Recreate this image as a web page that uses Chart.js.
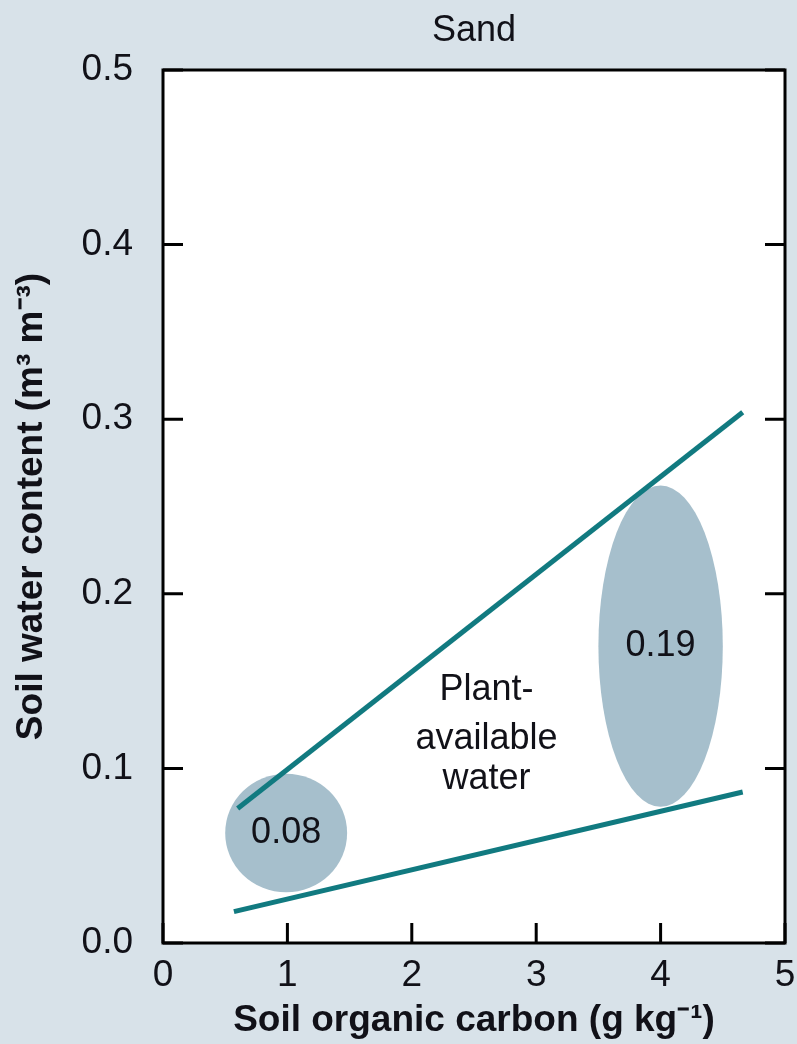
<!DOCTYPE html>
<html>
<head>
<meta charset="utf-8">
<script src="https://cdn.jsdelivr.net/npm/chart.js@4.4.1/dist/chart.umd.min.js"></script>
<style>
  html, body { margin: 0; padding: 0; background: #d8e2e9; }
  canvas { display: block; }
</style>
</head>
<body>
<canvas id="myChart" width="797" height="1044"></canvas>
<script>
// axis ranges and ticks
let xTicks = [0, 1, 2, 3, 4, 5];
let yTicks = [0, 0.1, 0.2, 0.3, 0.4, 0.5];

// two fitted lines (upper / lower limit of water)
let upperX = [0.6, 4.66];
let upperY = [0.077, 0.304];
let lowerX = [0.57, 4.66];
let lowerY = [0.018, 0.0865];

// shaded ovals with their values
let blobX = [0.99, 4.0];
let blobY = [0.063, 0.17];
let blobRx = [0.49, 0.5];
let blobRy = [0.034, 0.092];
let blobLabels = ["0.08", "0.19"];

// middle annotation
let noteLines = ["Plant-", "available", "water"];
let noteX = 2.6;
let noteY = [0.145, 0.117, 0.094];

let lineColor = "#117a80";
let blobColor = "#a6bfcc";
let textColor = "#111118";
let fontFamily = "'Liberation Sans', Arial, sans-serif";

function toPoints(xs, ys) {
  return xs.map((x, i) => ({ x: x, y: ys[i] }));
}

let framePlugin = {
  id: "frame",
  beforeDraw(chart) {
    let ctx = chart.ctx;
    let a = chart.chartArea;
    ctx.save();
    ctx.fillStyle = "#d8e2e9";
    ctx.fillRect(0, 0, chart.width, chart.height);
    ctx.fillStyle = "#ffffff";
    ctx.fillRect(a.left, a.top, a.right - a.left, a.bottom - a.top);
    ctx.restore();
  },
  beforeDatasetsDraw(chart) {
    let ctx = chart.ctx;
    let xs = chart.scales.x;
    let ys = chart.scales.y;
    ctx.save();
    ctx.fillStyle = blobColor;
    blobX.forEach((bx, i) => {
      let cx = xs.getPixelForValue(bx);
      let cy = ys.getPixelForValue(blobY[i]);
      let rx = Math.abs(xs.getPixelForValue(bx + blobRx[i]) - cx);
      let ry = Math.abs(ys.getPixelForValue(blobY[i] + blobRy[i]) - cy);
      ctx.beginPath();
      ctx.ellipse(cx, cy, rx, ry, 0, 0, Math.PI * 2);
      ctx.fill();
    });
    ctx.restore();
  },
  afterDatasetsDraw(chart) {
    let ctx = chart.ctx;
    let a = chart.chartArea;
    let xs = chart.scales.x;
    let ys = chart.scales.y;
    ctx.save();
    // labels in ovals and the middle note
    ctx.fillStyle = textColor;
    ctx.font = "36px " + fontFamily;
    ctx.textAlign = "center";
    ctx.textBaseline = "middle";
    blobLabels.forEach((t, i) => {
      ctx.fillText(t, xs.getPixelForValue(blobX[i]), ys.getPixelForValue(blobY[i]));
    });
    noteLines.forEach((t, i) => {
      ctx.fillText(t, xs.getPixelForValue(noteX), ys.getPixelForValue(noteY[i]));
    });
    // frame and inner ticks
    ctx.strokeStyle = "#000000";
    ctx.lineWidth = 3;
    ctx.strokeRect(a.left, a.top, a.right - a.left, a.bottom - a.top);
    let len = 20;
    ctx.beginPath();
    xTicks.forEach((v) => {
      let px = xs.getPixelForValue(v);
      ctx.moveTo(px, a.bottom);
      ctx.lineTo(px, a.bottom - len);
    });
    yTicks.forEach((v) => {
      let py = ys.getPixelForValue(v);
      ctx.moveTo(a.left, py);
      ctx.lineTo(a.left + len, py);
      ctx.moveTo(a.right, py);
      ctx.lineTo(a.right - len, py);
    });
    ctx.stroke();
    ctx.restore();
  },
};

let ctx = document.getElementById("myChart").getContext("2d");
let chart = new Chart(ctx, {
  type: "scatter",
  data: {
    datasets: [
      {
        label: "upper",
        data: toPoints(upperX, upperY),
        showLine: true,
        borderColor: lineColor,
        borderWidth: 5,
        pointRadius: 0,
      },
      {
        label: "lower",
        data: toPoints(lowerX, lowerY),
        showLine: true,
        borderColor: lineColor,
        borderWidth: 5,
        pointRadius: 0,
      },
    ],
  },
  options: {
    responsive: false,
    animation: false,
    layout: { padding: { left: 0, right: 12, top: 0, bottom: 0 } },
    plugins: {
      legend: { display: false },
      tooltip: { enabled: false },
      title: {
        display: true,
        fullSize: false,
        text: "Sand",
        color: textColor,
        font: { family: fontFamily, size: 36, weight: "normal", lineHeight: 1.2 },
        padding: { top: 9, bottom: 17.8 },
      },
    },
    scales: {
      x: {
        type: "linear",
        min: 0,
        max: 5,
        afterFit(s) {
          s.height = 101;
          s.paddingLeft = 0;
          s.paddingRight = 0;
        },
        afterBuildTicks(s) { s.ticks = xTicks.map((v) => ({ value: v })); },
        grid: { display: false, drawTicks: false },
        border: { display: false },
        ticks: {
          color: textColor,
          padding: 11,
          autoSkip: false,
          maxRotation: 0,
          font: { family: fontFamily, size: 37 },
        },
        title: {
          display: true,
          text: "Soil organic carbon (g kg⁻¹)",
          color: textColor,
          font: { family: fontFamily, size: 37, weight: "bold", lineHeight: 1.2 },
          padding: { top: 1, bottom: 1 },
        },
      },
      y: {
        type: "linear",
        min: 0,
        max: 0.5,
        afterFit(s) {
          s.width = 163;
          s.paddingTop = 0;
          s.paddingBottom = 0;
        },
        afterBuildTicks(s) { s.ticks = yTicks.map((v) => ({ value: v })); },
        grid: { display: false, drawTicks: false },
        border: { display: false },
        ticks: {
          color: textColor,
          padding: 30,
          autoSkip: false,
          callback: (v) => Number(v).toFixed(1),
          font: { family: fontFamily, size: 37 },
        },
        title: {
          display: true,
          text: "Soil water content (m³ m⁻³)",
          color: textColor,
          font: { family: fontFamily, size: 37, weight: "bold", lineHeight: 1.2 },
          padding: { top: 10, bottom: 10 },
        },
      },
    },
  },
  plugins: [framePlugin],
});
</script>
</body>
</html>
